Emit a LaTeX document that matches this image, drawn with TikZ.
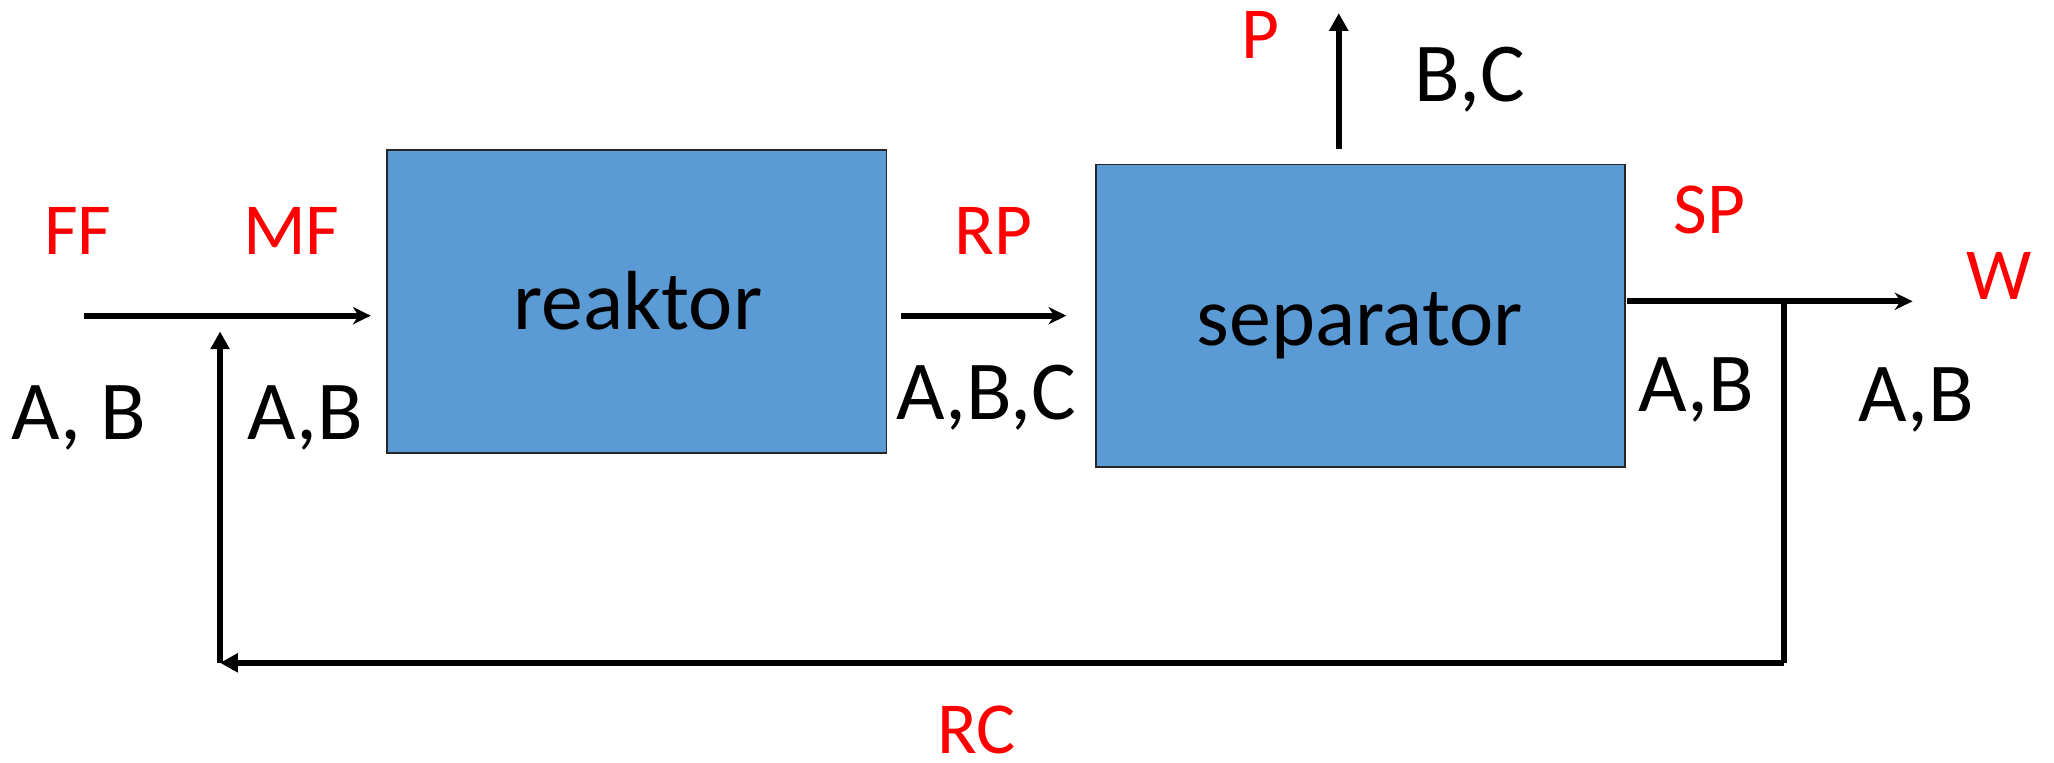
\documentclass[tikz,border=0pt]{standalone}
\usepackage{fontspec}
\setmainfont{Carlito}
\usetikzlibrary{arrows.meta}
\definecolor{boxblue}{HTML}{5B9BD5}
\tikzset{
  unitbox/.style={draw=black!85, line width=0.6pt, fill=boxblue, anchor=north west, inner sep=0pt},
  flow/.style={line width=2.2pt, -{Stealth[length=6.8pt,width=6.6pt,inset=2.2pt]}},
  flowtri/.style={line width=2.2pt, -{Triangle[length=6.8pt,width=7pt]}},
  plain/.style={line width=2.2pt},
  redlbl/.style={text=red, font=\fontsize{28}{32}\selectfont, inner sep=0pt, anchor=base},
  blklbl/.style={text=black, font=\fontsize{32}{38}\selectfont, inner sep=0pt, anchor=base},
  boxlbl/.style={text=black, font=\fontsize{32}{38}\selectfont, inner sep=0pt, anchor=base}
}
\begin{document}
\begin{tikzpicture}[x=0.5pt,y=-0.5pt]
\useasboundingbox (0,0) rectangle (1568,582);
% boxes
\node[unitbox, minimum width=190.5pt, minimum height=115.5pt] (reak) at (295,114) {};
\node[unitbox, minimum width=202pt, minimum height=115.5pt] (sep) at (836,125) {};
\node[boxlbl] (reaklbl) at (487,251.5) {reaktor};
\node[boxlbl] (seplbl) at (1038,263.5) {separator};
% coordinates
\coordinate (ffstart) at (64,241);
\coordinate (ffend) at (283,241);
\coordinate (rpstart) at (688,241);
\coordinate (rpend) at (814,241);
\coordinate (spstart) at (1242,230);
\coordinate (wend) at (1460,230);
\coordinate (split) at (1362,230);
\coordinate (splitdown) at (1362,506);
\coordinate (rcleft) at (168,506);
\coordinate (rcup) at (168,253);
\coordinate (pstart) at (1022,114);
\coordinate (pend) at (1022,10);
% connectors
\draw[flow] (ffstart) -- (ffend);
\draw[flow] (rpstart) -- (rpend);
\draw[flow] (spstart) -- (wend);
\draw[plain] (split) -- (splitdown);
\draw[flowtri] (splitdown) -- (rcleft);
\draw[flowtri] (rcleft) -- (rcup);
\draw[flowtri] (pstart) -- (pend);
% labels
\node[redlbl] (ff) at (59.5,194.5) {FF};
\node[redlbl] (mf) at (222.5,194.5) {MF};
\node[redlbl] (rp) at (758.5,194) {RP};
\node[redlbl] (p) at (962,44.5) {P};
\node[redlbl] (sp) at (1305,178) {SP};
\node[redlbl] (w) at (1526,229) {W};
\node[redlbl] (rc) at (745.5,575) {RC};
\node[blklbl] (ab1) at (60,335.5) {A, B};
\node[blklbl] (ab2) at (233,335.5) {A,B};
\node[blklbl] (abc) at (753,320.5) {A,B,C};
\node[blklbl] (bc) at (1122,77.5) {B,C};
\node[blklbl] (ab3) at (1295,314.5) {A,B};
\node[blklbl] (ab4) at (1463,322) {A,B};
\end{tikzpicture}
\end{document}
